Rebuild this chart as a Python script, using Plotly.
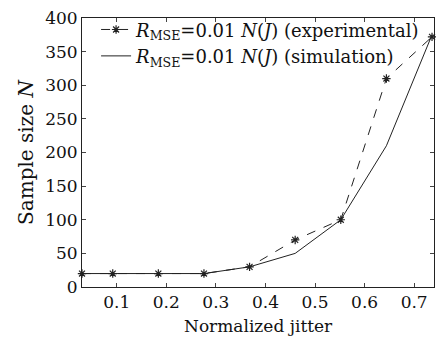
import plotly.graph_objects as go

jitter = [0.03, 0.092, 0.184, 0.276, 0.368, 0.46, 0.552, 0.644, 0.736]
n_experimental = [20, 20, 20, 20, 30, 70, 100, 310, 372]
n_simulation = [20, 20, 20, 20, 30, 50, 100, 210, 375]
x_ticks = [0.1, 0.2, 0.3, 0.4, 0.5, 0.6, 0.7]
y_ticks = [0, 50, 100, 150, 200, 250, 300, 350, 400]

FONT = "DejaVu Serif"

fig = go.Figure()
fig.add_trace(go.Scatter(
    x=jitter, y=n_experimental, mode="lines+markers",
    name="<i>R</i><sub>MSE</sub>=0.01 <i>N</i>(<i>J</i>) (experimental)",
    line=dict(color="#222", width=1, dash="dash"),
    marker=dict(symbol="asterisk-open", size=7, line=dict(color="#222", width=1.2)),
    cliponaxis=False,
))
fig.add_trace(go.Scatter(
    x=jitter, y=n_simulation, mode="lines",
    name="<i>R</i><sub>MSE</sub>=0.01 <i>N</i>(<i>J</i>) (simulation)",
    line=dict(color="#222", width=1),
))

fig.update_layout(
    width=436, height=339,
    margin=dict(l=82, r=2, t=18, b=52, autoexpand=False),
    paper_bgcolor="white", plot_bgcolor="white",
    font=dict(family=FONT, size=17, color="#111"),
    showlegend=True,
    legend=dict(x=0.04, y=1.025, xanchor="left", yanchor="top",
                bgcolor="rgba(0,0,0,0)", font=dict(size=18),
                tracegroupgap=0, itemwidth=30),
    xaxis=dict(range=[0.03, 0.74], tickvals=x_ticks,
               ticktext=[f"{v:.1f}" for v in x_ticks], tickangle=0,
               ticks="inside", ticklen=4, mirror="ticks", showline=True,
               linecolor="#222", linewidth=1, showgrid=False, zeroline=False,
               tickfont=dict(size=17)),
    yaxis=dict(range=[0, 400], tickvals=y_ticks,
               ticks="inside", ticklen=4, mirror="ticks", showline=True,
               linecolor="#222", linewidth=1, showgrid=False, zeroline=False,
               title=dict(text="Sample size <i>N</i>", standoff=6),
               tickfont=dict(size=17)),
    annotations=[dict(text="Normalized jitter", xref="paper", yref="paper",
                      x=0.5, y=-0.19, xanchor="center", yanchor="bottom",
                      showarrow=False,
                      font=dict(family=FONT, size=17, color="#111"))],
)

fig.write_html("out.html")
